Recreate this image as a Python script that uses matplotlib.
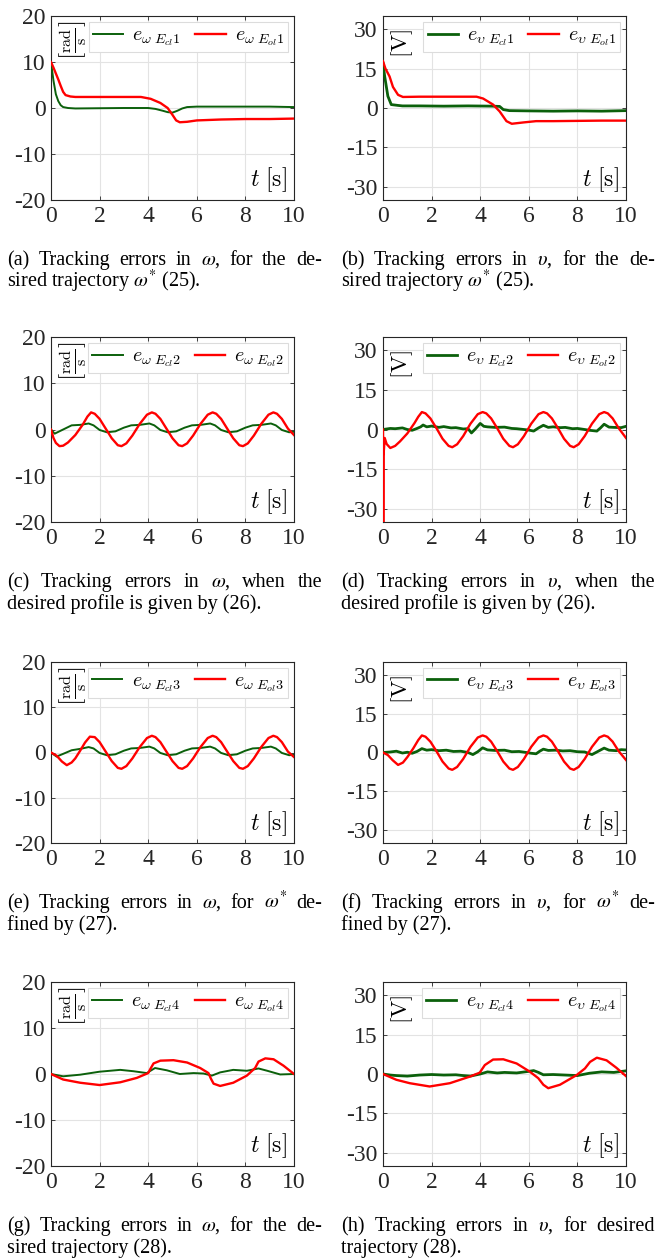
import matplotlib
matplotlib.use('Agg')
import matplotlib.pyplot as plt

plt.rcParams['font.family'] = ['Liberation Serif', 'DejaVu Serif']
plt.rcParams['mathtext.fontset'] = 'cm'
plt.rcParams['axes.unicode_minus'] = False

GREEN = '#0b600b'
RED = '#ff0000'

x_ticks = [0, 2, 4, 6, 8, 10]
w_ticks = [-20, -10, 0, 10, 20]
v_ticks = [-30, -15, 0, 15, 30]

# (a) omega, trajectory 1
t_a_cl = [0, 0.1, 0.2, 0.3, 0.4, 0.5, 0.7, 1.0, 2.0, 3.0, 4.0, 4.3, 4.6, 4.8, 5.0, 5.2, 5.4, 5.6, 6.0, 7.0, 8.0, 9.0, 10.0]
e_a_cl = [10, 6, 3, 1.5, 0.6, 0.2, 0.0, -0.1, -0.05, 0.0, 0.0, -0.2, -0.6, -0.9, -1.0, -0.6, -0.1, 0.2, 0.3, 0.3, 0.3, 0.3, 0.2]
t_a_ol = [0, 0.1, 0.2, 0.3, 0.4, 0.5, 0.6, 0.8, 1.0, 2.0, 3.0, 3.7, 4.1, 4.5, 4.8, 5.0, 5.15, 5.3, 5.6, 6.0, 7.0, 8.0, 9.0, 10.0]
e_a_ol = [10, 8.8, 7.5, 6.2, 4.8, 3.5, 2.8, 2.5, 2.4, 2.4, 2.4, 2.4, 2.0, 1.1, 0.0, -1.5, -2.7, -3.1, -3.0, -2.7, -2.5, -2.4, -2.4, -2.3]

# (b) v, trajectory 1
t_b_cl = [0, 0.07, 0.2, 0.34, 0.6, 0.8, 1.5, 2.5, 3.5, 4.5, 4.8, 4.95, 5.2, 6.0, 7.0, 8.0, 9.0, 10.0]
e_b_cl = [17, 12, 4.5, 1.3, 1.0, 0.8, 0.8, 0.7, 0.8, 0.7, 0.6, -0.6, -1.0, -1.1, -1.2, -1.1, -1.2, -1.0]
t_b_ol = [0, 0.1, 0.27, 0.41, 0.62, 0.82, 1.5, 2.5, 3.5, 3.85, 4.12, 4.53, 4.8, 5.08, 5.3, 5.77, 6.3, 7.0, 8.0, 9.0, 10.0]
e_b_ol = [17.8, 15, 12, 8, 5, 4.2, 4.3, 4.3, 4.3, 4.3, 3.6, 1.3, -1.3, -5.0, -6.0, -5.5, -5.0, -5.0, -4.9, -4.8, -4.8]

# (c) omega, profile 2
t_c_cl = [0, 0.15, 0.5, 0.85, 1.2, 1.55, 1.75, 2.0, 2.3, 2.65, 3.0, 3.3, 3.65, 4.05, 4.25, 4.5, 4.8, 5.15, 5.5, 5.8,
          6.15, 6.55, 6.75, 7.0, 7.3, 7.65, 8.0, 8.3, 8.65, 9.05, 9.25, 9.5, 9.8, 10.0]
e_c_cl = [0, -0.9, 0.0, 0.9, 1.0, 1.3, 0.9, -0.1, -0.6, -0.4, 0.4, 0.9, 1.0, 1.3, 0.9, -0.1, -0.6, -0.4, 0.4, 0.9,
          1.0, 1.3, 0.9, -0.1, -0.6, -0.4, 0.4, 0.9, 1.0, 1.3, 0.9, -0.1, -0.6, -0.5]
t_c_ol = [0, 0.1, 0.2, 0.35, 0.5, 0.7, 1.0, 1.3, 1.5, 1.65, 1.8, 2.0, 2.25, 2.5, 2.75, 2.9, 3.1, 3.35, 3.65, 3.95,
          4.15, 4.3, 4.5, 4.75, 5.0, 5.25, 5.4, 5.6, 5.85, 6.15, 6.45, 6.65, 6.8, 7.0, 7.25, 7.5, 7.75, 7.9, 8.1, 8.35,
          8.65, 8.95, 9.15, 9.3, 9.5, 9.75, 10.0]
e_c_ol = [0, -1.8, -2.9, -3.6, -3.5, -2.8, -1.2, 1.0, 2.8, 3.7, 3.4, 2.3, 0.2, -1.9, -3.4, -3.6, -3.0, -1.3, 1.2, 3.2,
          3.7, 3.4, 2.3, 0.2, -1.9, -3.4, -3.6, -3.0, -1.3, 1.2, 3.2, 3.7, 3.4, 2.3, 0.2, -1.9, -3.4, -3.6, -3.0, -1.3,
          1.2, 3.2, 3.7, 3.4, 2.3, 0.2, -1.2]

# (d) v, profile 2
t_d_cl = [0, 0.3, 0.5, 0.8, 1.0, 1.2, 1.4, 1.55, 1.65, 1.8, 2.0, 2.3, 2.5, 2.8, 3.0, 3.3, 3.5, 3.64, 3.8, 4.0,
          4.15, 4.3, 4.6, 5.0, 5.3, 5.5, 5.8, 6.0, 6.2, 6.4, 6.6, 6.8, 7.0, 7.3, 7.5, 7.8, 8.0, 8.3, 8.5, 8.8,
          8.95, 9.1, 9.3, 9.5, 9.8, 10.0]
e_d_cl = [0, 0.4, 0.3, 0.6, 0.0, -0.3, 0.4, 1.0, 1.7, 1.0, 1.3, 0.8, 1.1, 0.6, 0.7, 0.2, 0.3, -1.3, 0.2, 2.3,
          1.2, 1.0, 0.8, 0.9, 0.4, 0.3, 0.0, -0.2, -0.6, 0.6, 1.6, 0.8, 1.0, 0.7, 0.8, 0.3, 0.4, 0.0, -0.3, -0.6,
          0.6, 2.0, 0.9, 0.8, 0.7, 1.2]
t_d_ol = [0, 0.01, 0.02, 0.07, 0.15, 0.3, 0.5, 0.7, 1.0, 1.3, 1.45, 1.6, 1.75, 1.95, 2.2, 2.45, 2.7, 2.85, 3.05, 3.3,
          3.6, 3.9, 4.1, 4.25, 4.45, 4.7, 4.95, 5.2, 5.35, 5.55, 5.8, 6.1, 6.4, 6.6, 6.75, 6.95, 7.2, 7.45, 7.7, 7.85,
          8.05, 8.3, 8.6, 8.9, 9.1, 9.25, 9.45, 9.7, 10.0]
e_d_ol = [0, -36, -10, -3.2, -5.5, -7.0, -6.2, -4.5, -1.5, 2.5, 4.8, 6.6, 6.1, 4.2, 0.5, -3.5, -6.2, -6.7, -5.6, -2.5,
          2.2, 5.8, 6.6, 6.1, 4.2, 0.5, -3.5, -6.2, -6.7, -5.6, -2.5, 2.2, 5.8, 6.6, 6.1, 4.2, 0.5, -3.5, -6.2, -6.7,
          -5.6, -2.5, 2.2, 5.8, 6.6, 6.1, 4.2, 0.5, -3.2]

# (e) omega, profile 3
t_e_cl = [0, 0.23, 0.5, 0.85, 1.2, 1.55, 1.75, 2.0, 2.3, 2.65, 3.0, 3.3, 3.65, 4.05, 4.25, 4.5, 4.8, 5.15, 5.5, 5.8,
          6.15, 6.55, 6.75, 7.0, 7.3, 7.65, 8.0, 8.3, 8.65, 9.05, 9.25, 9.5, 9.8, 10.0]
e_e_cl = [0, -0.9, -0.3, 0.5, 0.8, 1.2, 0.9, -0.1, -0.6, -0.4, 0.4, 0.9, 1.0, 1.3, 0.9, -0.1, -0.6, -0.4, 0.4, 0.9,
          1.0, 1.3, 0.9, -0.1, -0.6, -0.4, 0.4, 0.9, 1.0, 1.3, 0.9, -0.1, -0.6, -0.5]
t_e_ol = [0, 0.23, 0.45, 0.65, 0.85, 1.0, 1.2, 1.4, 1.6, 1.8, 2.0, 2.25, 2.5, 2.75, 2.9, 3.1, 3.35, 3.65, 3.95,
          4.15, 4.3, 4.5, 4.75, 5.0, 5.25, 5.4, 5.6, 5.85, 6.15, 6.45, 6.65, 6.8, 7.0, 7.25, 7.5, 7.75, 7.9, 8.1, 8.35,
          8.65, 8.95, 9.15, 9.3, 9.5, 9.75, 10.0]
e_e_ol = [0, -0.7, -2.0, -2.8, -2.2, -1.3, 0.4, 2.2, 3.5, 3.4, 2.3, 0.2, -1.9, -3.4, -3.6, -3.0, -1.3, 1.2, 3.2,
          3.7, 3.4, 2.3, 0.2, -1.9, -3.4, -3.6, -3.0, -1.3, 1.2, 3.2, 3.7, 3.4, 2.3, 0.2, -1.9, -3.4, -3.6, -3.0, -1.3,
          1.2, 3.2, 3.7, 3.4, 2.3, 0.2, -1.0]

# (f) v, profile 3
t_f_cl = [0, 0.3, 0.55, 0.8, 1.0, 1.2, 1.4, 1.6, 1.8, 2.0, 2.3, 2.6, 2.9, 3.2, 3.5, 3.7, 3.9, 4.1, 4.3, 4.6,
          5.0, 5.3, 5.6, 5.9, 6.1, 6.3, 6.45, 6.6, 6.8, 7.1, 7.4, 7.7, 8.0, 8.3, 8.6, 8.8, 9.1, 9.3, 9.6, 9.8, 10.0]
e_f_cl = [0, 0.2, 0.5, -0.2, 0.1, -0.3, 0.4, 1.5, 0.9, 1.1, 0.7, 0.9, 0.4, 0.5, 0.0, -0.8, 0.3, 1.8, 1.0, 0.8,
          0.9, 0.3, 0.4, 0.0, -0.3, -0.5, 0.5, 1.3, 0.8, 0.9, 0.6, 0.7, 0.3, 0.2, -0.8, 0.2, 1.7, 0.9, 0.7, 1.1, 1.0]
t_f_ol = [0, 0.2, 0.4, 0.62, 0.82, 1.0, 1.24, 1.45, 1.6, 1.75, 1.95, 2.2, 2.45, 2.7, 2.85, 3.05, 3.3,
          3.6, 3.9, 4.1, 4.25, 4.45, 4.7, 4.95, 5.2, 5.35, 5.55, 5.8, 6.1, 6.4, 6.6, 6.75, 6.95, 7.2, 7.45, 7.7, 7.85,
          8.05, 8.3, 8.6, 8.9, 9.1, 9.25, 9.45, 9.7, 10.0]
e_f_ol = [0, -1.0, -3.0, -4.8, -3.9, -1.8, 1.5, 4.8, 6.6, 6.1, 4.2, 0.5, -3.5, -6.2, -6.7, -5.6, -2.5,
          2.2, 5.8, 6.6, 6.1, 4.2, 0.5, -3.5, -6.2, -6.7, -5.6, -2.5, 2.2, 5.8, 6.6, 6.1, 4.2, 0.5, -3.5, -6.2, -6.7,
          -5.6, -2.5, 2.2, 5.8, 6.6, 6.1, 4.2, 0.5, -2.9]

# (g) omega, trajectory 4
t_g_cl = [0, 0.5, 1.2, 2.0, 2.85, 3.4, 3.94, 4.28, 4.77, 5.3, 5.87, 6.28, 6.62, 6.96, 7.5, 8.06, 8.54, 8.9, 9.43, 10.0]
e_g_cl = [0, -0.5, -0.15, 0.5, 0.9, 0.6, 0.2, 1.3, 0.8, 0.0, 0.2, 0.1, -0.35, 0.35, 0.9, 0.7, 1.2, 0.7, -0.1, 0.0]
t_g_ol = [0, 0.5, 1.2, 2.0, 2.85, 3.53, 4.0, 4.1, 4.22, 4.5, 5.04, 5.6, 6.14, 6.48, 6.58, 6.69, 6.96, 7.5, 8.06,
          8.4, 8.54, 8.82, 9.16, 9.57, 10.0]
e_g_ol = [0, -1.2, -1.9, -2.4, -1.8, -0.85, 0.2, 1.2, 2.3, 2.9, 3.0, 2.5, 1.3, 0.2, -1.0, -2.1, -2.6, -1.9, -0.35,
          1.3, 2.7, 3.4, 3.2, 1.8, 0.0]

# (h) v, trajectory 4
t_h_cl = [0, 0.3, 0.55, 1.0, 1.5, 2.0, 2.5, 3.0, 3.3, 3.6, 4.0, 4.3, 4.7, 5.0, 5.5, 6.0, 6.2, 6.4, 6.6, 7.0,
          7.5, 8.0, 8.5, 9.0, 9.5, 10.0]
e_h_cl = [0, -0.4, -0.6, -0.8, -0.4, -0.2, -0.4, -0.3, -0.6, -0.8, 0.0, 0.8, 0.4, 0.6, 0.4, 1.0, 1.3, 0.6, -0.3, -0.2,
          -0.4, -0.6, 0.3, 0.8, 0.6, 1.2]
t_h_ol = [0, 0.55, 1.1, 1.92, 2.75, 3.57, 3.98, 4.19, 4.53, 4.95, 5.5, 6.04, 6.39, 6.6, 6.8, 7.28, 7.97, 8.31,
          8.52, 8.8, 9.2, 9.6, 10.0]
e_h_ol = [0, -2.2, -3.5, -4.75, -3.5, -1.0, 0.5, 3.4, 5.5, 5.6, 4.0, 0.9, -1.6, -4.1, -5.4, -4.1, -0.4, 2.1,
          4.6, 6.2, 5.2, 2.4, -0.8]

panels = [
    ('w', 1, t_a_cl, e_a_cl, t_a_ol, e_a_ol),
    ('v', 1, t_b_cl, e_b_cl, t_b_ol, e_b_ol),
    ('w', 2, t_c_cl, e_c_cl, t_c_ol, e_c_ol),
    ('v', 2, t_d_cl, e_d_cl, t_d_ol, e_d_ol),
    ('w', 3, t_e_cl, e_e_cl, t_e_ol, e_e_ol),
    ('v', 3, t_f_cl, e_f_cl, t_f_ol, e_f_ol),
    ('w', 4, t_g_cl, e_g_cl, t_g_ol, e_g_ol),
    ('v', 4, t_h_cl, e_h_cl, t_h_ol, e_h_ol),
]

captions = [
    ('(a)  Tracking errors in $\\omega$, for the de-', 'sired trajectory $\\omega^{*}$ (25).'),
    ('(b)  Tracking errors in $\\upsilon$, for the de-', 'sired trajectory $\\omega^{*}$ (25).'),
    ('(c)  Tracking errors in $\\omega$, when the', 'desired profile is given by (26).'),
    ('(d)  Tracking errors in $\\upsilon$, when the', 'desired profile is given by (26).'),
    ('(e)  Tracking errors in $\\omega$, for $\\omega^{*}$ de-', 'fined by (27).'),
    ('(f)  Tracking errors in $\\upsilon$, for $\\omega^{*}$ de-', 'fined by (27).'),
    ('(g)  Tracking errors in $\\omega$, for the de-', 'sired trajectory (28).'),
    ('(h)  Tracking errors in $\\upsilon$, for desired', 'trajectory (28).'),
]

W, H = 661, 1258
rows = [(16, 200), (337, 522), (662, 843), (982, 1166)]
cols = [(51, 294), (383, 626)]
cap_x = [(7, 322), (341, 655)]
CAP_FS = 14.5

fig = plt.figure(figsize=(W / 100, H / 100), dpi=100)
renderer = fig.canvas.get_renderer()


def justified(x0, x1, y, line):
    # place the words one by one so the line fills x0..x1 like the typeset caption
    words = line.split()
    texts = [fig.text(0, y, w, fontsize=CAP_FS, va='baseline', math_fontfamily='stix',
                      transform=None) for w in words]
    widths = [t.get_window_extent(renderer).width for t in texts]
    gap = (x1 - x0 - sum(widths)) / (len(words) - 1)
    x = x0
    for t, wd in zip(texts, widths):
        t.set_x(x)
        x += wd + gap


for i, (kind, n, tc, ec, to, eo) in enumerate(panels):
    r, c = divmod(i, 2)
    top, bot = rows[r]
    left, right = cols[c]
    ax = fig.add_axes([left / W, 1 - bot / H, (right - left) / W, (bot - top) / H])

    sym = '\\omega' if kind == 'w' else '\\upsilon'
    lw_g = 1.4 if kind == 'w' else 2.0
    ax.plot(tc, ec, color=GREEN, lw=lw_g, label=r'$e_{%s\ E_{cl}%d}$' % (sym, n), zorder=3)
    ax.plot(to, eo, color=RED, lw=1.7, label=r'$e_{%s\ E_{ol}%d}$' % (sym, n), zorder=4)

    ax.set_xlim(0, 10)
    ax.set_xticks(x_ticks)
    if kind == 'w':
        ax.set_ylim(-20, 20)
        ax.set_yticks(w_ticks)
        unit = r'$\left[\frac{\mathrm{rad}}{\mathrm{s}}\right]$'
        uy = 0.975
    else:
        ax.set_ylim(-35, 35)
        ax.set_yticks(v_ticks)
        unit = r'$[\mathrm{V}]$'
        uy = 0.93

    ax.grid(True, color='#e3e3e3', lw=0.8)
    ax.set_axisbelow(True)
    for s in ax.spines.values():
        s.set_color('#262626')
        s.set_linewidth(0.8)
    ax.tick_params(direction='in', top=True, right=True, length=3, width=0.6,
                   labelsize=17, colors='#262626', pad=4)

    ax.text(0.025, uy, unit, transform=ax.transAxes, rotation=90, ha='left', va='top',
            fontsize=16.5, zorder=5)
    ax.text(0.972, 0.03, r'$t\ [\mathrm{s}]$', transform=ax.transAxes, ha='right', va='bottom',
            fontsize=17, zorder=5)

    leg = ax.legend(loc='upper right', bbox_to_anchor=(0.975, 0.965), ncol=2, fontsize=14.5,
                    handlelength=1.5, handletextpad=0.45, columnspacing=0.7, borderpad=0.2,
                    borderaxespad=0, frameon=True, fancybox=False, framealpha=1)
    leg.get_frame().set_edgecolor('#dcdcdc')
    leg.get_frame().set_linewidth(0.8)

    l1, l2 = captions[i]
    x0, x1 = cap_x[c]
    justified(x0, x1, H - (bot + 65), l1)
    fig.text(x0 / W, 1 - (bot + 87) / H, l2, fontsize=CAP_FS, va='baseline', math_fontfamily='stix')

fig.savefig('out.png', dpi=100)
